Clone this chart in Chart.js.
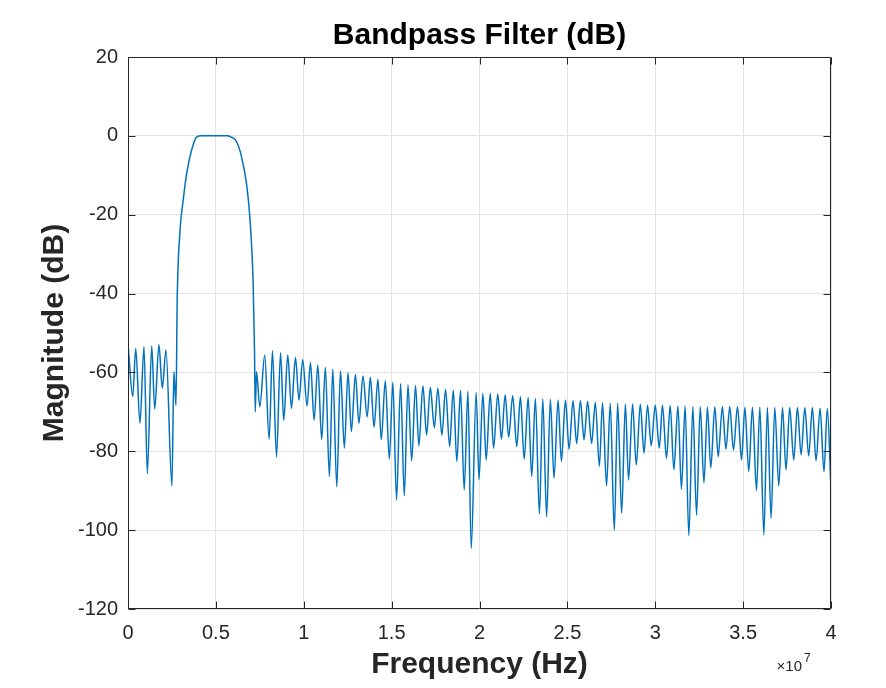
<!DOCTYPE html>
<html>
<head>
<meta charset="utf-8">
<title>Bandpass Filter (dB)</title>
<script src="https://cdn.jsdelivr.net/npm/chart.js@4.4.1/dist/chart.umd.min.js"></script>
<style>
  html, body { margin: 0; padding: 0; background: #fff; }
  #chart { display: block; }
</style>
</head>
<body>
<canvas id="chart" width="886" height="688"></canvas>
<script>
// frequency (MHz) and magnitude (dB): lobe peaks and nulls
const freqMHz = [
  0.02, 0.27, 0.44, 0.68, 0.91, 1.10, 1.35, 1.52, 1.76, 1.95, 2.16, 2.50, 2.61, 2.73,
  2.80, 2.95, 3.14, 3.34, 3.62, 3.90, 4.20, 5.60, 5.88, 6.18, 6.46, 6.74, 6.93, 7.12, 7.20,
  7.24, 7.31, 7.50, 7.78, 8.03, 8.22, 8.45, 8.68, 8.86, 9.09,
  9.30, 9.53, 9.73, 9.94, 10.19, 10.38, 10.59, 10.80, 11.02, 11.23,
  11.46, 11.65, 11.88, 12.09, 12.31, 12.52, 12.71, 12.94, 13.14, 13.37,
  13.61, 13.79, 14.00, 14.22, 14.41, 14.64, 14.87, 15.07, 15.28, 15.51,
  15.72, 15.93, 16.14, 16.36, 16.55, 16.78, 16.99, 17.20, 17.43, 17.63,
  17.86, 18.07, 18.30, 18.51, 18.71, 18.92, 19.13, 19.34, 19.53, 19.81,
  19.97, 20.19, 20.38, 20.61, 20.80, 21.04, 21.25, 21.46, 21.66, 21.89,
  22.12, 22.33, 22.54, 22.77, 22.97, 23.18, 23.41, 23.60, 23.82, 24.03,
  24.24, 24.47, 24.66, 24.89, 25.10, 25.32, 25.53, 25.74, 25.95, 26.15,
  26.38, 26.59, 26.82, 27.00, 27.23, 27.44, 27.67, 27.86, 28.09, 28.30,
  28.48, 28.71, 28.92, 29.15, 29.36, 29.56, 29.77, 30.00, 30.23, 30.41,
  30.64, 30.85, 31.06, 31.29, 31.49, 31.70, 31.91, 32.14, 32.35, 32.56,
  32.77, 32.97, 33.16, 33.39, 33.58, 33.82, 34.02, 34.24, 34.45, 34.68,
  34.91, 35.10, 35.32, 35.53, 35.76, 35.95, 36.18, 36.38, 36.59, 36.80,
  37.03, 37.24, 37.44, 37.65, 37.88, 38.09, 38.30, 38.51, 38.73, 38.94,
  39.15, 39.38, 39.60, 39.79, 40.00
];
const magDb = [
  -53.9, -66.1, -53.9, -72.9, -53.5, -85.6, -53.3, -69.3, -53.0, -64.0, -54.3, -88.8, -59.8, -68.3,
  -41.6, -24.7, -16.3, -9.5, -3.6, -0.3, 0, 0, -0.3, -1.5, -5.3, -12.0, -20.5, -37.4, -55.0,
  -70.0, -59.8, -68.7, -55.6, -77.0, -54.5, -81.4, -55.0, -72.2, -55.6,
  -69.1, -56.2, -67.0, -56.8, -68.5, -57.5, -72.1, -58.1, -77.0, -58.7,
  -86.4, -59.2, -89.0, -59.6, -79.2, -60.1, -75.0, -60.5, -72.9, -60.9,
  -71.3, -61.2, -73.9, -61.7, -77.1, -62.1, -82.0, -62.5, -92.3, -62.8,
  -91.3, -63.1, -82.4, -63.3, -78.6, -63.4, -75.9, -63.8, -74.0, -64.0,
  -75.9, -64.3, -78.8, -64.5, -82.6, -64.6, -89.8, -64.8, -104.6, -65.1,
  -87.2, -65.3, -82.2, -65.3, -79.2, -65.5, -76.9, -65.7, -76.4, -65.9,
  -78.8, -66.2, -82.0, -66.3, -86.4, -66.6, -95.9, -66.7, -96.6, -66.8,
  -86.8, -67.0, -82.6, -67.0, -79.5, -67.2, -78.0, -67.2, -77.1, -67.4,
  -78.0, -67.6, -83.8, -67.7, -88.8, -67.8, -100.0, -67.8, -95.7, -68.0,
  -87.3, -68.0, -83.5, -68.1, -80.5, -68.3, -78.6, -68.3, -79.2, -68.3,
  -81.8, -68.4, -84.7, -68.5, -89.6, -68.5, -101.4, -68.7, -96.2, -68.7,
  -88.0, -68.8, -84.2, -68.7, -81.4, -68.7, -79.5, -68.7, -79.7, -68.7,
  -82.2, -68.8, -85.2, -68.8, -90.0, -68.8, -101.2, -68.9, -97.0, -68.9,
  -88.8, -68.9, -84.7, -68.9, -82.2, -68.9, -80.9, -68.9, -81.2, -68.9,
  -82.4, -69.1, -85.2, -69.1, -89.8
];
const xTicks = [0, 0.5, 1, 1.5, 2, 2.5, 3, 3.5, 4];   // x 10^7 Hz
const yTicks = [20, 0, -20, -40, -60, -80, -100, -120];

const AXIS = '#262626';
Chart.defaults.font.family = '"Liberation Sans", Arial, Helvetica, sans-serif';
Chart.defaults.color = AXIS;

const points = freqMHz.map((f, i) => ({ x: f * 1e6, y: magDb[i] }));

// MATLAB-like box, inward ticks and the x10^7 exponent
const matlabBox = {
  id: 'matlabBox',
  afterDatasetsDraw(chart) {
    const { ctx, chartArea: a, scales: { x, y } } = chart;
    const L = Math.round(a.left) + 0.5, R = Math.round(a.right) - 0.5;
    const T = Math.round(a.top) + 0.5, B = Math.round(a.bottom) - 0.5;
    ctx.save();
    ctx.strokeStyle = AXIS;
    ctx.lineWidth = 1;
    ctx.beginPath();
    xTicks.forEach(v => {
      const px = Math.round(x.getPixelForValue(v * 1e7)) + 0.5;
      ctx.moveTo(px, B); ctx.lineTo(px, B - 7);
      ctx.moveTo(px, T); ctx.lineTo(px, T + 7);
    });
    yTicks.forEach(v => {
      const py = Math.round(y.getPixelForValue(v)) + 0.5;
      ctx.moveTo(L, py); ctx.lineTo(L + 7, py);
      ctx.moveTo(R, py); ctx.lineTo(R - 7, py);
    });
    ctx.rect(L, T, R - L, B - T);
    ctx.stroke();

    ctx.fillStyle = AXIS;
    ctx.textBaseline = 'alphabetic';
    ctx.textAlign = 'right';
    ctx.font = '15px "Liberation Sans", Arial, sans-serif';
    ctx.fillText('\u00d710', a.right - 29, a.bottom + 62);
    ctx.textAlign = 'left';
    ctx.font = '12px "Liberation Sans", Arial, sans-serif';
    ctx.fillText('7', a.right - 27, a.bottom + 53);
    ctx.restore();
  }
};

new Chart(document.getElementById('chart'), {
  type: 'line',
  data: {
    datasets: [{
      label: 'Magnitude',
      data: points,
      borderColor: '#0072BD',
      borderWidth: 1.5,
      pointRadius: 0,
      cubicInterpolationMode: 'monotone',
      fill: false
    }]
  },
  options: {
    responsive: false,
    animation: false,
    devicePixelRatio: 1,
    layout: { padding: { left: 0, right: 55, top: 0, bottom: 0 } },
    plugins: {
      legend: { display: false },
      tooltip: { enabled: false },
      title: {
        display: true,
        text: 'Bandpass Filter (dB)',
        color: '#000',
        fullSize: false,
        font: { size: 30, weight: 'bold' },
        padding: { top: 18, bottom: 3 }
      }
    },
    scales: {
      x: {
        type: 'linear',
        min: 0,
        max: 4e7,
        afterFit: s => { s.height = 79; },
        afterBuildTicks: s => { s.ticks = xTicks.map(v => ({ value: v * 1e7 })); },
        border: { display: false },
        grid: { color: '#e3e3e3', drawTicks: false },
        ticks: {
          padding: 12,
          maxRotation: 0,
          font: { size: 20 },
          callback: v => String(Math.round(v / 1e6) / 10)
        },
        title: {
          display: true,
          text: 'Frequency (Hz)',
          color: '#262626',
          font: { size: 30, weight: 'bold' },
          padding: { top: 0, bottom: 5 }
        }
      },
      y: {
        min: -120,
        max: 20,
        afterFit: s => { s.width = 128; },
        afterBuildTicks: s => { s.ticks = yTicks.map(v => ({ value: v })); },
        border: { display: false },
        grid: { color: '#e3e3e3', drawTicks: false },
        ticks: { padding: 10, font: { size: 20 } },
        title: {
          display: true,
          text: 'Magnitude (dB)',
          color: '#262626',
          font: { size: 30, weight: 'bold' },
          padding: { top: 37, bottom: 0 }
        }
      }
    }
  },
  plugins: [matlabBox]
});
</script>
</body>
</html>
